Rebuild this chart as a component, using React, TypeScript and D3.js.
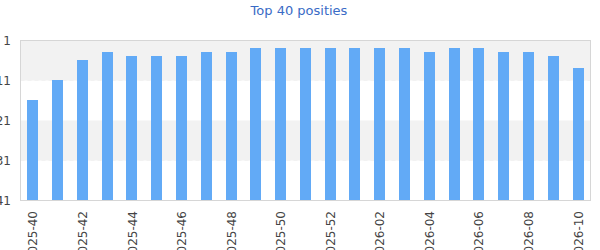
import React from "react";
import * as d3 from "d3";

const weeks = [
  "2025-40", "2025-41", "2025-42", "2025-43", "2025-44", "2025-45", "2025-46",
  "2025-47", "2025-48", "2025-49", "2025-50", "2025-51", "2025-52",
  "2026-01", "2026-02", "2026-03", "2026-04", "2026-05", "2026-06",
  "2026-07", "2026-08", "2026-09", "2026-10",
];
const positions = [16, 11, 6, 4, 5, 5, 5, 4, 4, 3, 3, 3, 3, 3, 3, 3, 4, 3, 3, 4, 4, 5, 8];
const yTicks = [1, 11, 21, 31, 41];
const bands = [[1, 11], [21, 31]];
const title = "Top 40 posities";

const W = 600, H = 250;
const left = 20.5, right = 590.5, top = 40.5, bottom = 200.5;
const font = "'DejaVu Sans', Verdana, sans-serif";

export default function App() {
  const x = d3.scaleBand<string>().domain(weeks).range([left, right]).paddingInner(0.55).paddingOuter(0.275);
  const y = d3.scaleLinear().domain([1, 41]).range([top, bottom]);
  return (
    <svg width={W} height={H} style={{ position: "absolute", left: 0, top: 0, background: "#fff" }}>
      <text x={299} y={15} textAnchor="middle" fontFamily={font} fontSize={13} fill="#3a6bc6">{title}</text>
      {bands.map(([a, b], i) => (
        <rect key={i} x={left} y={y(a)} width={right - left} height={y(b) - y(a)} fill="#f2f2f2" />
      ))}
      {bands.map(([a, b], i) => (
        <line key={"d" + i} x1={left} x2={right} y1={y(b)} y2={y(b)} stroke="#f2f2f2" strokeWidth={1} strokeDasharray="4,3" />
      ))}
      {positions.map((v, i) => (
        <rect key={i} x={Math.round(x(weeks[i])!)} y={y(v) - 0.5} width={11} height={bottom - y(v)} fill="#62aaf6" />
      ))}
      <rect x={left} y={top} width={right - left} height={bottom - top} fill="none" stroke="#d6d6d6" strokeWidth={1} />
      {yTicks.map((t) => (
        <text key={t} x={11} y={y(t) + 4} textAnchor="end" fontFamily={font} fontSize={12} fill="#444">{t}</text>
      ))}
      {weeks.map((w, i) => i % 2 === 0 ? (
        <text key={w} transform={`translate(${x(w)! + x.bandwidth() / 2 + 4.5},211) rotate(-90)`} textAnchor="end" fontFamily={font} fontSize={12} fill="#444">{w}</text>
      ) : null)}
    </svg>
  );
}
